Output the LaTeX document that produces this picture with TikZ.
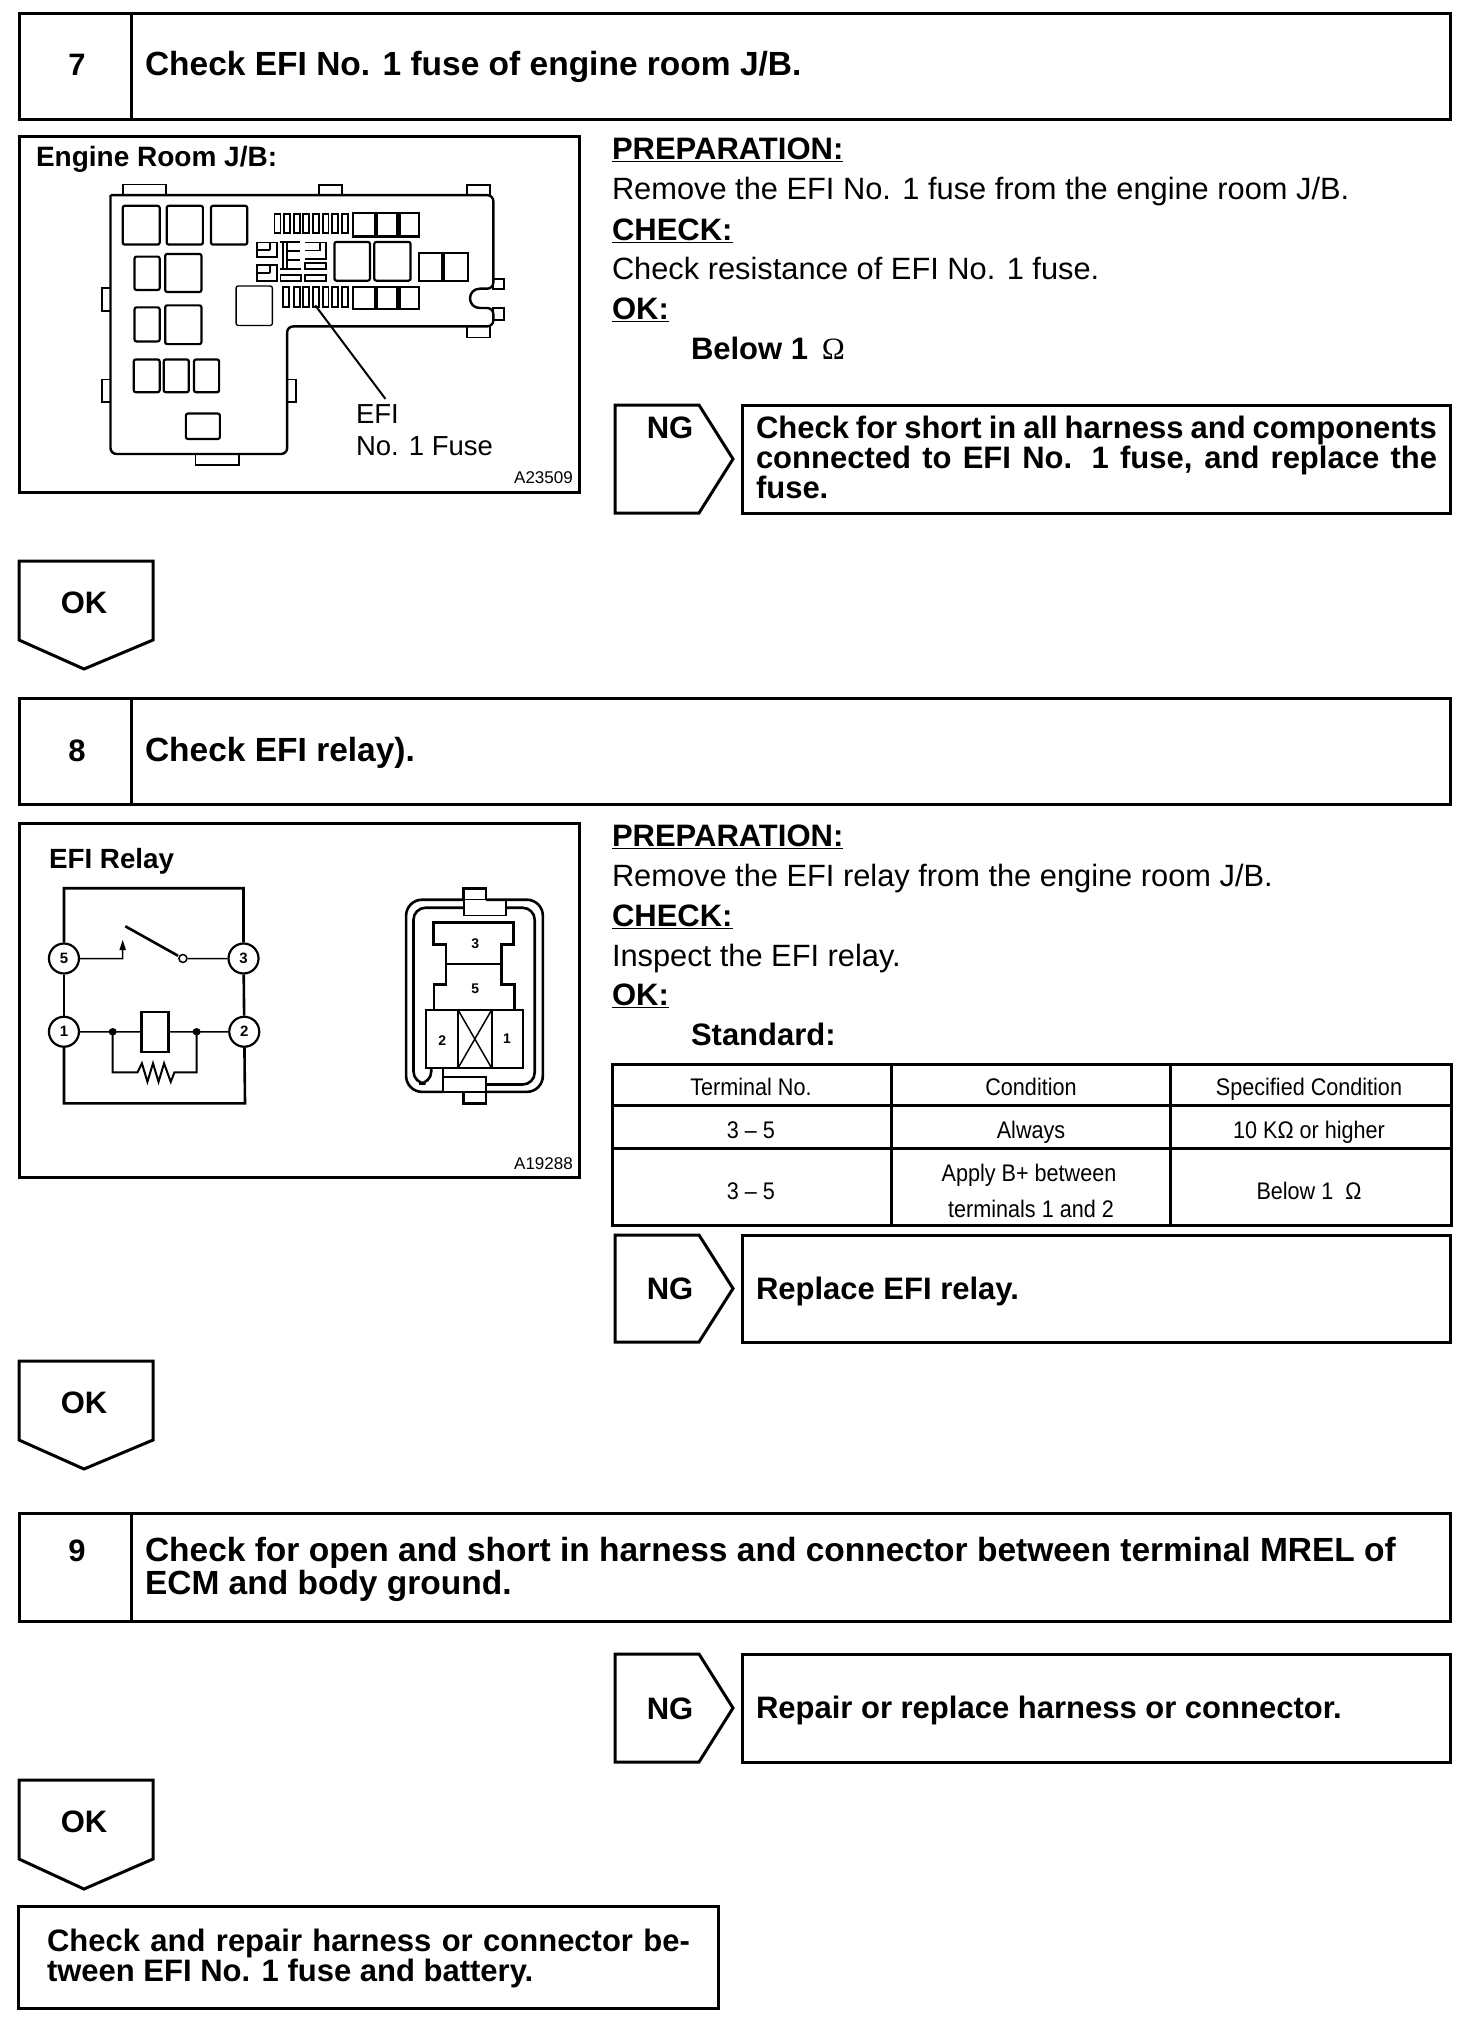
\documentclass[tikz,border=0pt]{standalone}
\usepackage{fontspec}
\setmainfont{Liberation Sans}
\newfontfamily\narrowf[FakeStretch=0.9]{Liberation Sans}
\newfontfamily\serifo{Liberation Serif}
\usetikzlibrary{shapes.geometric}
\newcommand{\fs}[1]{\fontsize{#1}{#1}\selectfont}
\newcommand{\ju}[2]{\makebox[#1pt][s]{#2}}
\tikzset{
 frame/.style={draw=black,line width=3pt,fill=white},
 lab/.style={anchor=base west,inner sep=0pt,outer sep=0pt},
 ctr/.style={anchor=base,inner sep=0pt,outer sep=0pt},
 head/.style={lab,font=\fs{31}\bfseries},
 title/.style={lab,font=\fs{33.5}\bfseries},
 body/.style={lab,font=\fs{30.8}},
 num/.style={ctr,font=\fs{31}\bfseries},
 cell/.style={ctr,font=\fs{24}\narrowf},
 rbox/.style={draw,line width=2.2pt,rounded corners=2pt},
 thinb/.style={draw,line width=1.3pt},
 pin/.style={circle,draw,line width=2.2pt,fill=white,minimum size=30pt,inner sep=0pt,font=\fs{15}\bfseries},
 wire/.style={line width=2.6pt},
 fine/.style={line width=1.5pt},
}
\begin{document}
\begin{tikzpicture}[x=1pt,y=-1pt]
\useasboundingbox (0,0) rectangle (1472,2030);
\fill[white] (0,0) rectangle (1472,2030);
% headers
\foreach \t/\b in {13/119,698/804,1513/1621}{
 \draw[frame] (19,\t) rectangle (1450,\b);
 \draw[line width=3pt] (131,\t) -- (131,\b);
}
\node[num] (n7) at (77,75) {7};
\node[title] (h7) at (145,75) {Check EFI No. 1 fuse of engine room J/B.};
\node[num] (n8) at (77,761) {8};
\node[title] (h8) at (145,761) {Check EFI relay).};
\node[num] (n9) at (77,1561) {9};
\node[title] (h9a) at (145,1561) {Check for open and short in harness and connector between terminal MREL of};
\node[title] (h9b) at (145,1594) {ECM and body ground.};
% picture frames
\draw[frame] (19,136) rectangle (579,492);
\draw[frame] (19,823) rectangle (579,1177);
\node[lab,font=\fs{28}\bfseries] (t1) at (36,166) {Engine Room J/B:};
\node[lab,font=\fs{27.5}] (efi) at (356,423) {EFI};
\node[lab,font=\fs{27.5}] (fuse) at (356,455) {No. 1 Fuse};
\node[anchor=base east,inner sep=0pt,font=\fs{17}] (a1) at (573,483) {A23509};
\node[lab,font=\fs{27.8}\bfseries] (t2) at (49,868) {EFI Relay};
\node[anchor=base east,inner sep=0pt,font=\fs{17}] (a2) at (573,1169) {A19288};
% fuse box
\begin{scope}[shift={(10,125)},xscale=.3695,yscale=.334]
\foreach \a/\b/\c/\d in {305/178/422/210,836/180/898/210,1236/180/1298/210,1308/462/1336/490,1308/548/1336/585,1236/603/1298/636,250/488/272/558,250/762/272/830,750/762/774/830,502/985/620/1018}
 \draw[line width=1.8pt] (\a,\b) rectangle (\c,\d);
\draw[line width=2.4pt,rounded corners=6pt] (272,210) -- (1308,210) -- (1308,490) -- (1272,490);
\draw[line width=2.4pt,rounded corners=6pt] (272,210) -- (272,985) -- (750,985) -- (750,603) -- (1308,603) -- (1308,548) -- (1272,548);
\draw[line width=2.4pt] (1272,490) .. controls (1236,490) and (1236,548) .. (1272,548);
\foreach \a/\b/\c/\d in {305/242/405/358,424/242/522/358,544/242/642/358,337/394/405/494,420/386/518/500,337/546/405/648,420/540/518/656,335/702/405/800,416/702/484/800,498/702/566/800,476/864/568/940,878/350/974/466,986/350/1084/466}
 \draw[rbox] (\a,\b) rectangle (\c,\d);
\draw[thinb,rounded corners=2pt] (612,482) rectangle (710,600);
\foreach \a/\b/\c/\d in {1106/384/1170/466,1174/384/1240/466,928/264/988/334,992/264/1048/334,1054/264/1106/334,928/484/988/552,992/484/1048/552,1054/484/1106/552}
 \draw[line width=2.2pt] (\a,\b) rectangle (\c,\d);
\foreach \a in {716,742,768,794,820,846,872,898}
 \draw[line width=1.8pt] (\a,266) rectangle ++(16,58);
\foreach \a in {738,768,794,820,846,872,898}
 \draw[line width=1.8pt] (\a,484) rectangle ++(16,60);
\draw[line width=1.8pt] (668,352) rectangle (722,396) (668,374) -- (704,374) (704,352) -- (704,374);
\draw[line width=1.8pt] (668,418) rectangle (722,466) (668,442) -- (704,442) (704,418) -- (704,442);
\draw[line width=1.8pt] (732,350) -- (786,350) (738,350) -- (738,432) (750,350) -- (750,432) (750,378) -- (786,378) (750,404) -- (786,404) (732,432) -- (788,432);
\draw[line width=1.8pt] (798,352) -- (856,352) -- (856,400) -- (798,400) (798,376) -- (838,376) -- (838,352);
\draw[line width=1.8pt] (798,414) rectangle (856,430) (798,450) rectangle (856,466) (732,450) rectangle (788,466);
\coordinate (lf) at (826,540);
\coordinate (le) at (1016,820);
\draw[line width=2pt] (lf) -- (le);
\end{scope}
% relay
\begin{scope}[shift={(10,813)},xscale=.3695,yscale=.336]
\node[pin] (p5) at (146,433) {5};
\node[pin] (p3) at (632,433) {3};
\node[pin] (p1) at (146,651) {1};
\node[pin] (p2) at (634,651) {2};
\draw[wire] (p5) |- (632,224) -- (p3);
\draw[wire] (p5) -- (p1);
\draw[wire] (p3) -- (p2);
\draw[wire] (p1) |- (636,864) -- (p2);
\draw[fine] (p5) -- (305,433) -- (305,395);
\fill (305,378) -- (296,408) -- (314,408) -- cycle;
\draw[wire] (312,337) -- (455,425);
\node[circle,draw,line width=1.5pt,inner sep=0pt,minimum size=8pt,fill=white] (sw) at (468,433) {};
\draw[fine] (sw) -- (p3);
\node[rectangle,draw,line width=2.4pt,minimum width=27pt,minimum height=40pt,inner sep=0pt] (coil) at (392,651) {};
\fill (278,651) circle[radius=11];
\fill (505,651) circle[radius=11];
\draw[fine] (p1) -- (coil);
\draw[fine] (coil) -- (p2);
\draw[line width=2pt] (278,651) -- (278,772) -- (345,772) -- (357,745) -- (372,800) -- (387,745) -- (402,800) -- (417,745) -- (435,800) -- (445,772) -- (505,772) -- (505,651);
% connector
\draw[wire,rounded corners=16pt] (1228,258) -- (1072,258) -- (1072,830) -- (1172,830);
\draw[wire,rounded corners=16pt] (1288,258) -- (1442,258) -- (1442,830) -- (1288,830);
\draw[wire,rounded corners=12pt] (1228,282) -- (1092,282) -- (1092,805) -- (1140,805) -- (1140,760);
\draw[wire,rounded corners=12pt] (1342,282) -- (1420,282) -- (1420,808) -- (1290,808);
\draw[wire] (1228,258) -- (1228,224) -- (1288,224) -- (1288,258);
\draw[fine] (1228,258) -- (1228,305) -- (1342,305) -- (1342,258) -- (1228,258);
\draw[wire] (1228,830) -- (1228,864) -- (1288,864) -- (1288,830);
\draw[fine] (1172,785) -- (1288,785) -- (1288,830) -- (1172,830);
\draw[wire] (1172,760) -- (1172,830);
\draw[wire] (1148,585) -- (1148,510) -- (1180,510) -- (1180,392) -- (1146,392) -- (1146,326) -- (1362,326) -- (1362,392) -- (1330,392) -- (1330,510) -- (1366,510) -- (1366,585);
\draw[fine] (1180,450) -- (1330,450);
\node[font=\fs{14}\bfseries,inner sep=0pt] (c3) at (1259,390) {3};
\node[font=\fs{14}\bfseries,inner sep=0pt] (c5) at (1259,523) {5};
\draw[line width=2pt] (1126,585) rectangle (1388,760);
\draw[wire] (1212,585) -- (1212,760) (1304,585) -- (1304,760);
\draw[fine] (1212,760) -- (1304,585) (1212,585) -- (1304,760);
\node[font=\fs{14}\bfseries,inner sep=0pt] (c2) at (1170,676) {2};
\node[font=\fs{14}\bfseries,inner sep=0pt] (c1) at (1345,672) {1};
\end{scope}
% right text 1
\node[head] (pr1) at (612,159) {\underline{PREPARATION:}};
\node[body] (l1) at (612,199) {Remove the EFI No. 1 fuse from the engine room J/B.};
\node[head] (ch1) at (612,240) {\underline{CHECK:}};
\node[body] (l2) at (612,279) {Check resistance of EFI No. 1 fuse.};
\node[head] (ok1) at (612,319) {\underline{OK:}};
\node[head] (b1) at (691,359) {Below 1 {\serifo\mdseries\,Ω}};
% right text 2
\node[head] (pr2) at (612,846) {\underline{PREPARATION:}};
\node[body] (l3) at (612,886) {Remove the EFI relay from the engine room J/B.};
\node[head] (ch2) at (612,926) {\underline{CHECK:}};
\node[body] (l4) at (612,966) {Inspect the EFI relay.};
\node[head] (ok2) at (612,1005) {\underline{OK:}};
\node[head] (st) at (691,1045) {Standard:};
% table
\draw[line width=3pt] (612,1064) rectangle (1451,1225);
\draw[line width=3pt] (612,1105) -- (1451,1105) (612,1148) -- (1451,1148) (891,1064) -- (891,1225) (1170,1064) -- (1170,1225);
\node[cell] (c11) at (751,1095) {Terminal No.};
\node[cell] (c12) at (1031,1095) {Condition};
\node[cell] (c13) at (1309,1095) {Specified Condition};
\node[cell] (c21) at (751,1138) {3 – 5};
\node[cell] (c22) at (1031,1138) {Always};
\node[cell] (c23) at (1309,1138) {10 KΩ or higher};
\node[cell] (c31) at (751,1199) {3 – 5};
\node[cell] (c32a) at (1029,1181) {Apply B+ between};
\node[cell] (c32b) at (1031,1217) {terminals 1 and 2};
\node[cell] (c33) at (1309,1199) {Below 1 ~Ω};
% NG arrows and boxes
\foreach \t/\b in {405/513,1235/1342,1654/1762}{
 \draw[frame] (615,\t) -- (699,\t) -- (733,{(\t+\b)/2}) -- (699,\b) -- (615,\b) -- cycle;
 \draw[frame] (742,\t) rectangle (1450,\b);
}
\node[num] (ng1) at (670,438) {NG};
\node[num] (ng2) at (670,1299) {NG};
\node[num] (ng3) at (670,1719) {NG};
\node[head] (s1a) at (756,438) {\ju{681}{Check for short in all harness and components}};
\node[head] (s1b) at (756,468) {\ju{681}{connected to EFI No. 1 fuse, and replace the}};
\node[head] (s1c) at (756,498) {fuse.};
\node[head] (s2) at (756,1299) {Replace EFI relay.};
\node[head] (s3) at (756,1718) {Repair or replace harness or connector.};
% OK arrows
\foreach \t/\m/\b in {561/640/669,1361/1440/1469,1780/1859/1889}{
 \draw[frame] (19,\t) -- (153,\t) -- (153,\m) -- (84,\b) -- (19,\m) -- cycle;
}
\node[num] (ok3) at (84,613) {OK};
\node[num] (ok4) at (84,1413) {OK};
\node[num] (ok5) at (84,1832) {OK};
% final box
\draw[frame] (18,1906) rectangle (718,2008);
\node[head] (f1) at (47,1951) {\ju{643}{Check and repair harness or connector be-}};
\node[head] (f2) at (47,1981) {tween EFI No. 1 fuse and battery.};
\end{tikzpicture}
\end{document}
